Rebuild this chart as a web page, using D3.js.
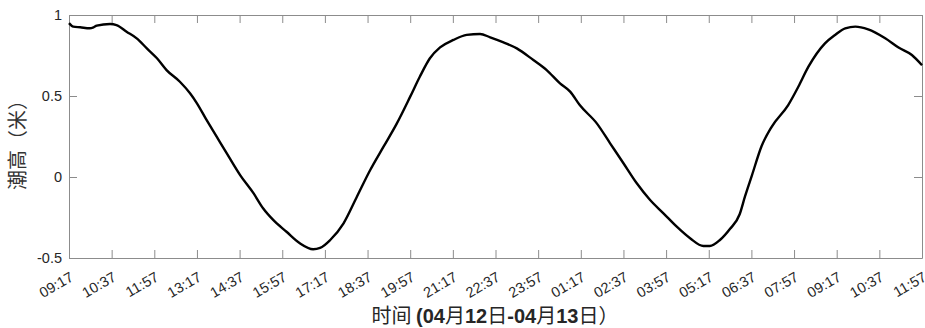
<!DOCTYPE html>
<html>
<head>
<meta charset="utf-8">
<script src="https://cdn.jsdelivr.net/npm/d3@7"></script>
<style>
  html, body { margin: 0; padding: 0; background: #fff; }
  svg { display: block; }
</style>
</head>
<body>
<svg id="chart" width="925" height="328"></svg>
<script>
// Tide height series: minutes after 09:17 on 04-12, height in metres
const minutes = [0, 8, 21, 39, 46, 52, 77, 89, 108, 127, 146, 165, 183, 208, 227, 240,
  258, 277, 296, 321, 346, 364, 383, 408, 433, 458, 471, 490, 515, 540, 565, 590, 615,
  640, 658, 677, 696, 721, 746, 771, 790, 815, 840, 871, 896, 921, 940, 958, 990, 1015,
  1040, 1065, 1090, 1115, 1140, 1165, 1190, 1202, 1221, 1240, 1258, 1268, 1281, 1299,
  1318, 1349, 1368, 1387, 1418, 1437, 1456, 1475, 1499, 1531, 1556, 1581, 1600];
const heights = [0.95, 0.928, 0.924, 0.918, 0.924, 0.934, 0.944, 0.938, 0.897, 0.856,
  0.794, 0.733, 0.66, 0.588, 0.517, 0.455, 0.352, 0.249, 0.146, 0.012, -0.1, -0.193,
  -0.265, -0.338, -0.409, -0.446, -0.438, -0.389, -0.286, -0.122, 0.043, 0.187, 0.331,
  0.496, 0.619, 0.733, 0.8, 0.846, 0.877, 0.883, 0.862, 0.831, 0.794, 0.722, 0.66,
  0.578, 0.527, 0.444, 0.331, 0.208, 0.085, -0.039, -0.142, -0.224, -0.307, -0.378,
  -0.426, -0.426, -0.389, -0.32, -0.23, -0.12, 0.01, 0.19, 0.31, 0.444, 0.557, 0.681,
  0.825, 0.877, 0.918, 0.928, 0.911, 0.856, 0.799, 0.753, 0.69];

// Axis ticks: every 80 minutes, labelled with clock time
const xTickMinutes = d3.range(0, 1601, 80);
const xTickLabels = ["09:17", "10:37", "11:57", "13:17", "14:37", "15:57", "17:17",
  "18:37", "19:57", "21:17", "22:37", "23:57", "01:17", "02:37", "03:57", "05:17",
  "06:37", "07:57", "09:17", "10:37", "11:57"];
const yTicks = [-0.5, 0, 0.5, 1];
const yTickLabels = ["-0.5", "0", "0.5", "1"];

const yLabel = "潮高（米）";

const svg = d3.select("#chart");
const plotLeft = 69, plotRight = 922, plotTop = 15, plotBottom = 258;
const axisColor = "#8c8c8c", textColor = "#262626";
const tickFont = "'Liberation Sans', Arial, sans-serif";

const x = d3.scaleLinear().domain([0, 1600]).range([plotLeft, plotRight]);
const y = d3.scaleLinear().domain([-0.5, 1]).range([plotBottom, plotTop]);

// Box axes with inward ticks on all four sides
function styleAxis(g) {
  g.selectAll("path.domain").attr("stroke", axisColor).attr("stroke-width", 1);
  g.selectAll(".tick line").attr("stroke", axisColor).attr("stroke-width", 1);
}

const xBottom = svg.append("g")
  .attr("transform", `translate(0,${plotBottom})`)
  .call(d3.axisBottom(x).tickValues(xTickMinutes).tickSizeInner(-8).tickSizeOuter(0)
    .tickFormat((d, i) => xTickLabels[i]));
styleAxis(xBottom);
xBottom.selectAll(".tick text")
  .attr("fill", textColor)
  .style("font-family", tickFont)
  .style("font-size", "14.5px")
  .attr("text-anchor", "end")
  .attr("dy", null)
  .attr("y", 0)
  .attr("transform", "translate(5,22) rotate(-30)");

const xTop = svg.append("g")
  .attr("transform", `translate(0,${plotTop})`)
  .call(d3.axisTop(x).tickValues(xTickMinutes).tickSizeInner(-8).tickSizeOuter(0)
    .tickFormat(""));
styleAxis(xTop);

const yLeft = svg.append("g")
  .attr("transform", `translate(${plotLeft},0)`)
  .call(d3.axisLeft(y).tickValues(yTicks).tickSizeInner(-8).tickSizeOuter(0)
    .tickFormat((d, i) => yTickLabels[i]));
styleAxis(yLeft);
yLeft.selectAll(".tick text")
  .attr("fill", textColor)
  .style("font-family", tickFont)
  .style("font-size", "14.5px")
  .attr("x", -7);

const yRight = svg.append("g")
  .attr("transform", `translate(${plotRight},0)`)
  .call(d3.axisRight(y).tickValues(yTicks).tickSizeInner(-8).tickSizeOuter(0)
    .tickFormat(""));
styleAxis(yRight);

// Tide curve
const line = d3.line()
  .x((d, i) => x(minutes[i]))
  .y(d => y(d))
  .curve(d3.curveMonotoneX);

svg.append("path")
  .datum(heights)
  .attr("d", line)
  .attr("fill", "none")
  .attr("stroke", "#000")
  .attr("stroke-width", 2.4)
  .attr("stroke-linejoin", "round");

// Axis titles
svg.append("text")
  .attr("transform", `translate(25,140) rotate(-90)`)
  .attr("text-anchor", "middle")
  .attr("fill", "#333")
  .style("font-family", "'Noto Sans CJK SC', sans-serif")
  .style("font-size", "20px")
  .text(yLabel);

const xTitle = svg.append("text")
  .attr("x", 495)
  .attr("y", 323)
  .attr("text-anchor", "middle")
  .attr("fill", textColor)
  .style("font-size", "20px");
const titleParts = [
  ["时间 ", "normal"], ["(04", "bold"], ["月", "normal"], ["12", "bold"], ["日", "normal"],
  ["-04", "bold"], ["月", "normal"], ["13", "bold"], ["日）", "normal"]
];
titleParts.forEach(([t, w]) => {
  xTitle.append("tspan")
    .style("font-weight", w)
    .style("font-family", w === "bold" ? "'Liberation Sans', sans-serif" : "'Noto Sans CJK SC', sans-serif")
    .text(t);
});
</script>
</body>
</html>
